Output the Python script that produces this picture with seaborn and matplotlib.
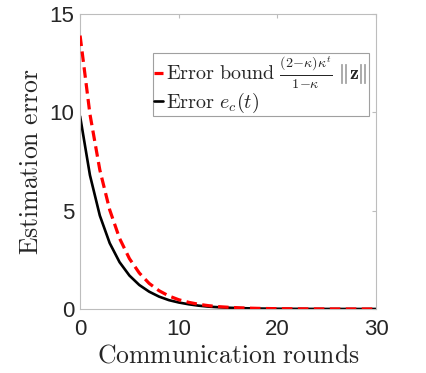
import numpy as np
import pandas as pd
import matplotlib
matplotlib.use("Agg")
import matplotlib.pyplot as plt
import seaborn as sns

# communication rounds and the two curves
rounds = list(range(31))
error_bound = [13.9, 9.9, 7.07, 5.04, 3.59, 2.56, 1.83, 1.30, 0.93, 0.66,
               0.47, 0.34, 0.24, 0.17, 0.12, 0.088, 0.063, 0.045, 0.032, 0.023,
               0.016, 0.012, 0.008, 0.006, 0.004, 0.003, 0.002, 0.0015, 0.001,
               0.0008, 0.0005]
error_ec = [9.8, 6.8, 4.75, 3.35, 2.38, 1.70, 1.22, 0.88, 0.63, 0.45,
            0.33, 0.24, 0.17, 0.12, 0.09, 0.065, 0.047, 0.034, 0.024, 0.017,
            0.012, 0.009, 0.006, 0.0045, 0.003, 0.002, 0.0016, 0.0012, 0.0008,
            0.0006, 0.0004]
x_ticks = [0, 10, 20, 30]
y_ticks = [0, 5, 10, 15]

label_bound = r"$\mathrm{Error\ bound}\ \frac{(2{-}\kappa)\kappa^t}{1{-}\kappa}\ \|\mathbf{z}\|$"
label_ec = r"$\mathrm{Error}\ e_c(t)$"

df = pd.DataFrame({"round": rounds, "bound": error_bound, "ec": error_ec})

sns.set_style("white")
plt.rcParams["font.family"] = ["Liberation Sans", "DejaVu Sans"]
plt.rcParams["mathtext.fontset"] = "cm"

fig = plt.figure(figsize=(4.26, 3.73), dpi=100)
ax = fig.add_axes([0.188, 0.1716, 0.695, 0.791])

sns.lineplot(data=df, x="round", y="ec", color="black", linewidth=1.9,
             label=label_ec, ax=ax, zorder=2)
sns.lineplot(data=df, x="round", y="bound", color="#ff0000", linewidth=2.3,
             linestyle=(0, (3.3, 1.7)), label=label_bound, ax=ax, zorder=3)

ax.set_xlim(0, 30)
ax.set_ylim(0, 15)
ax.set_xticks(x_ticks)
ax.set_yticks(y_ticks)
ax.tick_params(direction="in", length=3, color="#bdbdbd", labelsize=16,
               labelcolor="#262626", top=True, right=True)
ax.tick_params(axis="x", pad=7)
ax.tick_params(axis="y", pad=4)
for s in ax.spines.values():
    s.set_color("#bdbdbd")
    s.set_linewidth(0.8)

ax.set_xlabel(r"$\mathrm{Communication\ rounds}$", fontsize=18.5, labelpad=3,
              color="#262626")
ax.set_ylabel(r"$\mathrm{Estimation\ error}$", fontsize=18.5, labelpad=5,
              color="#262626")

h, l = ax.get_legend_handles_labels()
leg = ax.legend(h[::-1], l[::-1], loc="upper right", bbox_to_anchor=(0.975, 0.866),
                fontsize=14.5, handlelength=0.45, handletextpad=0.15,
                borderpad=0.05, labelspacing=0.0, frameon=True, fancybox=False,
                framealpha=1, borderaxespad=0.0)
leg.get_frame().set_edgecolor("#a0a0a0")
leg.get_frame().set_linewidth(0.8)

fig.savefig("out.png", dpi=100)
